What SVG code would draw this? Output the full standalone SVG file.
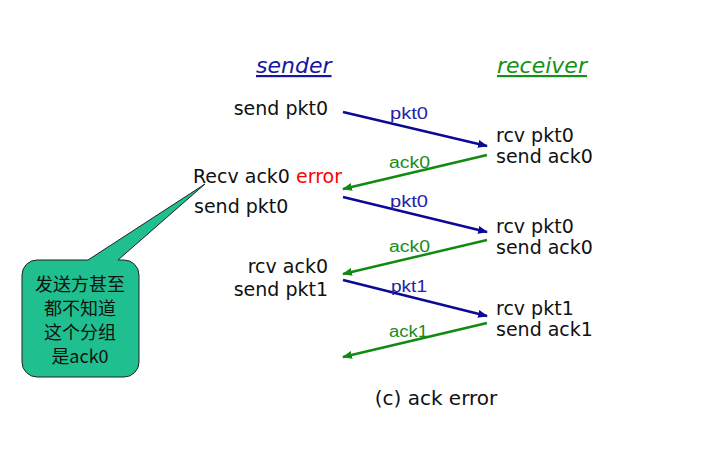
<svg xmlns="http://www.w3.org/2000/svg" width="728" height="450" viewBox="0 0 728 450">
<defs>
<marker id="ahB" markerUnits="userSpaceOnUse" markerWidth="10" markerHeight="8" refX="9" refY="4" orient="auto"><path d="M0,0 L10,4 L0,8 z" fill="#0a0a96"/></marker>
<marker id="ahG" markerUnits="userSpaceOnUse" markerWidth="10" markerHeight="8" refX="9" refY="4" orient="auto"><path d="M0,0 L10,4 L0,8 z" fill="#128a12"/></marker>
<style>
.t{font-family:"DejaVu Sans","Noto Sans CJK SC",sans-serif;font-size:19px;fill:#111}
.hd{font-family:"DejaVu Sans",sans-serif;font-size:22px;font-style:italic;text-decoration:underline}
.lb{font-family:"Liberation Sans",Arial,sans-serif;font-size:16px}
.pk{stroke:#0a0a96;stroke-width:2.5;fill:none;marker-end:url(#ahB)}
.ak{stroke:#128a12;stroke-width:2.5;fill:none;marker-end:url(#ahG)}
.pl{fill:#2323a8}
.al{fill:#1a8c1a}
.cj{font-family:"Noto Sans CJK SC",sans-serif;font-size:18px;fill:#111;text-anchor:middle}
</style>
</defs>
<rect width="728" height="450" fill="#fff"/>
<g id="sender"><text class="hd" x="256" y="73" fill="#1616a0">sender</text></g>
<g id="receiver"><text class="hd" x="497" y="73" fill="#179017">receiver</text></g>
<g id="s1"><text class="t" x="328" y="115" text-anchor="end">send pkt0</text></g>
<g id="s2"><text class="t" x="193" y="183">Recv ack0 <tspan fill="#ff0000">error</tspan></text>
<text class="t" x="194" y="213">send pkt0</text></g>
<g id="s3"><text class="t" x="328" y="273" text-anchor="end">rcv ack0</text>
<text class="t" x="328" y="296" text-anchor="end">send pkt1</text></g>
<g id="r1"><text class="t" x="496" y="142">rcv pkt0</text><text class="t" x="496" y="163">send ack0</text></g>
<g id="r2"><text class="t" x="496" y="233">rcv pkt0</text><text class="t" x="496" y="254">send ack0</text></g>
<g id="r3"><text class="t" x="496" y="315">rcv pkt1</text><text class="t" x="496" y="336">send ack1</text></g>
<g id="connectors">
<line class="pk" x1="343" y1="112" x2="487" y2="146"/>
<line class="ak" x1="487" y1="155" x2="343" y2="189"/>
<line class="pk" x1="343" y1="197" x2="487" y2="232"/>
<line class="ak" x1="487" y1="240" x2="343" y2="274"/>
<line class="pk" x1="343" y1="280" x2="487" y2="316"/>
<line class="ak" x1="487" y1="323" x2="343" y2="357"/>
<text class="lb pl" x="390" y="119" textLength="38" lengthAdjust="spacingAndGlyphs">pkt0</text>
<text class="lb al" x="389" y="168" textLength="41" lengthAdjust="spacingAndGlyphs">ack0</text>
<text class="lb pl" x="390" y="207" textLength="38" lengthAdjust="spacingAndGlyphs">pkt0</text>
<text class="lb al" x="389" y="252" textLength="41" lengthAdjust="spacingAndGlyphs">ack0</text>
<text class="lb pl" x="391" y="292" textLength="36" lengthAdjust="spacingAndGlyphs">pkt1</text>
<text class="lb al" x="389" y="337" textLength="39" lengthAdjust="spacingAndGlyphs">ack1</text>
</g>
<g id="callout">
<path d="M37,260 H88 L205,184 L118,260 H124 A15,15 0 0 1 139,275 V362 A15,15 0 0 1 124,377 H37 A15,15 0 0 1 22,362 V275 A15,15 0 0 1 37,260 Z" fill="#1fbf8f" stroke="#222" stroke-width="1"/>
<text class="cj" x="80" y="291">发送方甚至</text>
<text class="cj" x="80" y="315">都不知道</text>
<text class="cj" x="80" y="339">这个分组</text>
<text class="cj" x="80" y="363">是ack0</text>
</g>
<g id="caption"><text class="t" x="436" y="405" text-anchor="middle" style="font-size:20px">(c) ack error</text></g>
</svg>
